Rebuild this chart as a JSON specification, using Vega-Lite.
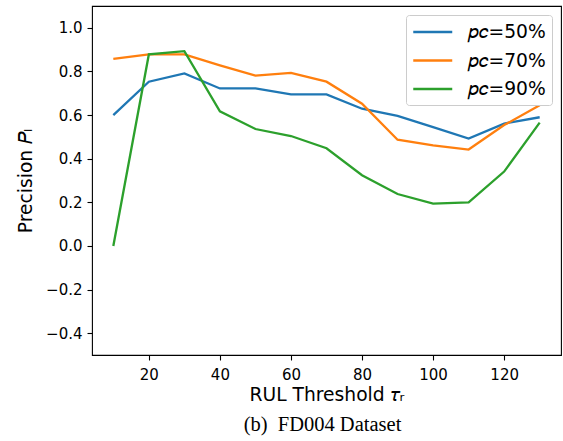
{
  "$schema": "https://vega.github.io/schema/vega-lite/v6.json",
  "width": 469,
  "height": 349,
  "autosize": "none",
  "padding": {"left": 92, "top": 6, "right": 2, "bottom": 86},
  "background": "white",
  "config": {
    "font": "DejaVu Sans",
    "view": {"stroke": "black", "strokeWidth": 1.1},
    "axis": {
      "domain": false,
      "grid": false,
      "tickColor": "black",
      "tickSize": 5,
      "tickWidth": 1.1,
      "labelFont": "DejaVu Sans",
      "labelFontSize": 15,
      "labelColor": "black",
      "titleFont": "DejaVu Sans",
      "titleFontSize": 18.7,
      "titleFontWeight": "normal",
      "titleColor": "black"
    }
  },
  "title": {
    "text": "(b)\u00a0 FD004 Dataset",
    "orient": "bottom",
    "font": "Liberation Serif",
    "fontSize": 20.5,
    "fontWeight": "normal",
    "color": "black",
    "offset": 11,
    "dx": -4
  },
  "data": {
    "values": [
      {"tau": 10, "precision": 0.600, "series": "𝑝𝑐=50%"},
      {"tau": 20, "precision": 0.753, "series": "𝑝𝑐=50%"},
      {"tau": 30, "precision": 0.791, "series": "𝑝𝑐=50%"},
      {"tau": 40, "precision": 0.722, "series": "𝑝𝑐=50%"},
      {"tau": 50, "precision": 0.722, "series": "𝑝𝑐=50%"},
      {"tau": 60, "precision": 0.695, "series": "𝑝𝑐=50%"},
      {"tau": 70, "precision": 0.695, "series": "𝑝𝑐=50%"},
      {"tau": 80, "precision": 0.629, "series": "𝑝𝑐=50%"},
      {"tau": 90, "precision": 0.596, "series": "𝑝𝑐=50%"},
      {"tau": 100, "precision": 0.545, "series": "𝑝𝑐=50%"},
      {"tau": 110, "precision": 0.492, "series": "𝑝𝑐=50%"},
      {"tau": 120, "precision": 0.561, "series": "𝑝𝑐=50%"},
      {"tau": 130, "precision": 0.590, "series": "𝑝𝑐=50%"},
      {"tau": 10, "precision": 0.858, "series": "𝑝𝑐=70%"},
      {"tau": 20, "precision": 0.878, "series": "𝑝𝑐=70%"},
      {"tau": 30, "precision": 0.878, "series": "𝑝𝑐=70%"},
      {"tau": 40, "precision": 0.828, "series": "𝑝𝑐=70%"},
      {"tau": 50, "precision": 0.781, "series": "𝑝𝑐=70%"},
      {"tau": 60, "precision": 0.793, "series": "𝑝𝑐=70%"},
      {"tau": 70, "precision": 0.753, "series": "𝑝𝑐=70%"},
      {"tau": 80, "precision": 0.652, "series": "𝑝𝑐=70%"},
      {"tau": 90, "precision": 0.487, "series": "𝑝𝑐=70%"},
      {"tau": 100, "precision": 0.461, "series": "𝑝𝑐=70%"},
      {"tau": 110, "precision": 0.442, "series": "𝑝𝑐=70%"},
      {"tau": 120, "precision": 0.554, "series": "𝑝𝑐=70%"},
      {"tau": 130, "precision": 0.645, "series": "𝑝𝑐=70%"},
      {"tau": 10, "precision": 0.000, "series": "𝑝𝑐=90%"},
      {"tau": 20, "precision": 0.878, "series": "𝑝𝑐=90%"},
      {"tau": 30, "precision": 0.893, "series": "𝑝𝑐=90%"},
      {"tau": 40, "precision": 0.617, "series": "𝑝𝑐=90%"},
      {"tau": 50, "precision": 0.536, "series": "𝑝𝑐=90%"},
      {"tau": 60, "precision": 0.504, "series": "𝑝𝑐=90%"},
      {"tau": 70, "precision": 0.448, "series": "𝑝𝑐=90%"},
      {"tau": 80, "precision": 0.324, "series": "𝑝𝑐=90%"},
      {"tau": 90, "precision": 0.238, "series": "𝑝𝑐=90%"},
      {"tau": 100, "precision": 0.194, "series": "𝑝𝑐=90%"},
      {"tau": 110, "precision": 0.200, "series": "𝑝𝑐=90%"},
      {"tau": 120, "precision": 0.341, "series": "𝑝𝑐=90%"},
      {"tau": 130, "precision": 0.565, "series": "𝑝𝑐=90%"}
    ]
  },
  "mark": {"type": "line", "strokeWidth": 2.3, "clip": true},
  "encoding": {
    "x": {
      "field": "tau",
      "type": "quantitative",
      "scale": {"domain": [4, 136], "nice": false, "zero": false},
      "axis": {"values": [20, 40, 60, 80, 100, 120], "title": "RUL Threshold 𝜏ᵣ", "labelPadding": 7, "titlePadding": 3}
    },
    "y": {
      "field": "precision",
      "type": "quantitative",
      "scale": {"domain": [-0.5, 1.1], "nice": false, "zero": false},
      "axis": {"values": [-0.4, -0.2, 0, 0.2, 0.4, 0.6, 0.8, 1.0], "format": ".1f", "title": "Precision 𝑃ₗ", "labelPadding": 5, "titlePadding": 10}
    },
    "color": {
      "field": "series",
      "type": "nominal",
      "scale": {"range": ["#1f77b4", "#ff7f0e", "#2ca02c"]},
      "legend": {
        "title": null,
        "orient": "top-right",
        "offset": 9,
        "padding": 6,
        "strokeColor": "#cccccc",
        "fillColor": "white",
        "cornerRadius": 3,
        "symbolType": "M-2,0H2",
        "symbolSize": 380,
        "symbolStrokeWidth": 2.5,
        "symbolOffset": 9.75,
        "labelFont": "DejaVu Sans",
        "labelFontSize": 18.7,
        "labelColor": "black",
        "labelOffset": 23.75,
        "rowPadding": 7.5
      }
    }
  }
}
